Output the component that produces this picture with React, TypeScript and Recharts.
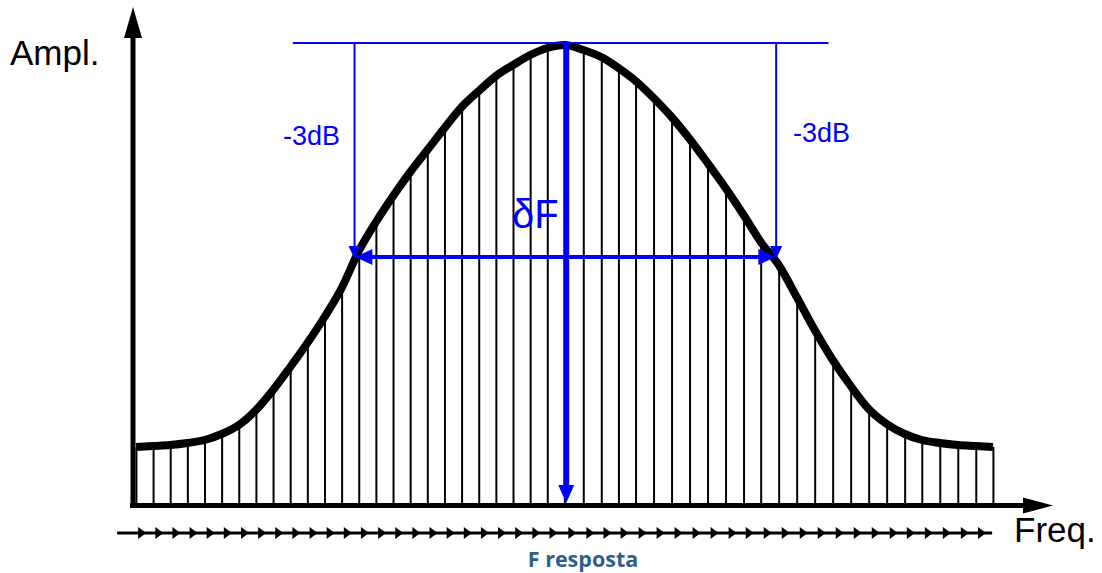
import React from 'react';
import {
  ComposedChart,
  Bar,
  Line,
  Scatter,
  XAxis,
  YAxis,
  ReferenceLine,
} from 'recharts';

// frequency positions of the hatch lines (arbitrary units, 0..100)
const freqs = [
  0, 2, 4, 6, 8, 10, 12, 14, 16, 18, 20, 22, 24, 26, 28, 30, 32, 34, 36, 38, 40, 42, 44, 46, 48, 50,
  52.2, 54.3, 56.3, 58.3, 60.4, 62.5, 64.6, 66.7, 68.8, 70.9, 72.9, 75, 77.1, 79.2, 81.3, 83.4,
  85.5, 87.6, 89.7, 91.7, 93.8, 95.9, 98, 100,
];

// response amplitude at each hatch line (arbitrary units)
const amps = [
  58, 59, 60, 62, 65, 71, 80, 95, 115, 138, 162, 188, 217, 254, 283, 309, 333, 355, 377, 398, 414,
  429, 440, 450, 457, 460,
  455, 448, 437, 424, 407, 388, 366, 342, 317, 290, 263, 240, 208, 175, 145, 119, 96, 81, 71, 65,
  62, 60, 59, 58,
];

// annotation levels
const peakLevel = 462;
const halfLevel = 248;
const lowerEdge = 25.6;
const upperEdge = 74.6;
const centerFreq = 50.2;
const arrowRowLevel = -28;

const data = freqs.map((f, i) => ({ f, amp: amps[i] }));
const arrowRow = freqs.slice(1).map((f) => ({ f, v: arrowRowLevel }));

const BLUE = '#0000ff';

const arrowShape =
  (color: string, width: number, len: number, half: number, both = false) =>
  (p: any) => {
    const { x1, y1, x2, y2 } = p;
    const dx = x2 - x1;
    const dy = y2 - y1;
    const d = Math.sqrt(dx * dx + dy * dy) || 1;
    const ux = dx / d;
    const uy = dy / d;
    const head = (tx: number, ty: number, sx: number, sy: number) => {
      const bx = tx - sx * len;
      const by = ty - sy * len;
      return `${tx},${ty} ${bx - sy * half},${by + sx * half} ${bx + sy * half},${by - sx * half}`;
    };
    const sx1 = both ? x1 + ux * (len - 1) : x1;
    const sy1 = both ? y1 + uy * (len - 1) : y1;
    return (
      <g>
        <line
          x1={sx1}
          y1={sy1}
          x2={x2 - ux * (len - 1)}
          y2={y2 - uy * (len - 1)}
          stroke={color}
          strokeWidth={width}
        />
        <polygon points={head(x2, y2, ux, uy)} fill={color} />
        {both && <polygon points={head(x1, y1, -ux, -uy)} fill={color} />}
      </g>
    );
  };

const smallHead = (p: any) => {
  const tip = p.cx - 7;
  return (
    <polygon
      points={`${tip},${p.cy} ${tip - 8},${p.cy - 6} ${tip - 8},${p.cy + 6}`}
      fill="#000"
    />
  );
};

export default function App() {
  return (
    <div style={{ position: 'absolute', left: 0, top: 0, width: 1102, height: 573, background: '#fff' }}>
      <ComposedChart width={1102} height={573} data={data} margin={{ top: 0, right: 0, bottom: 0, left: 0 }}>
        <XAxis dataKey="f" type="number" domain={[-15.87, 112.72]} hide />
        <YAxis type="number" domain={[-68, 505]} hide />

        <Bar dataKey="amp" fill="#000" barSize={2} isAnimationActive={false} />
        <Line
          dataKey="amp"
          type="monotone"
          stroke="#000"
          strokeWidth={8}
          dot={false}
          activeDot={false}
          isAnimationActive={false}
        />

        {/* axes */}
        <ReferenceLine
          segment={[{ x: -0.35, y: -3 }, { x: -0.35, y: 498 }]}
          shape={arrowShape('#000', 5, 31, 9)}
        />
        <ReferenceLine
          segment={[{ x: -0.7, y: -0.5 }, { x: 107, y: -0.5 }]}
          shape={arrowShape('#000', 5, 30, 8)}
        />

        {/* row of arrows below the axis */}
        <ReferenceLine
          segment={[{ x: -2.2, y: arrowRowLevel }, { x: 99.9, y: arrowRowLevel }]}
          stroke="#000"
          strokeWidth={3}
        />
        <Scatter data={arrowRow} dataKey="v" shape={smallHead} activeShape={false} isAnimationActive={false} />

        {/* -3dB annotations */}
        <ReferenceLine
          segment={[{ x: 18.3, y: peakLevel }, { x: 80.8, y: peakLevel }]}
          stroke={BLUE}
          strokeWidth={2}
        />
        <ReferenceLine
          segment={[{ x: lowerEdge - 0.1, y: peakLevel }, { x: lowerEdge - 0.1, y: halfLevel - 2 }]}
          shape={arrowShape(BLUE, 2, 13, 6)}
        />
        <ReferenceLine
          segment={[{ x: upperEdge + 0.1, y: peakLevel }, { x: upperEdge + 0.1, y: halfLevel - 2 }]}
          shape={arrowShape(BLUE, 2, 13, 6)}
        />
        <ReferenceLine
          segment={[{ x: lowerEdge, y: halfLevel }, { x: upperEdge, y: halfLevel }]}
          shape={arrowShape(BLUE, 4, 17, 8, true)}
        />
        <ReferenceLine
          segment={[{ x: centerFreq, y: peakLevel }, { x: centerFreq, y: 2 }]}
          shape={arrowShape(BLUE, 6, 18, 8)}
        />
      </ComposedChart>

      <svg
        width={1102}
        height={573}
        style={{ position: 'absolute', left: 0, top: 0, pointerEvents: 'none' }}
      >
        <g fontFamily="'Liberation Sans', Arial, sans-serif">
          <text x={10} y={65} fontSize={35} fill="#000">Ampl.</text>
          <text x={1014} y={542} fontSize={35} fill="#000">Freq.</text>
          <text x={283} y={145} fontSize={27} fill={BLUE}>-3dB</text>
          <text x={793} y={142} fontSize={27} fill={BLUE}>-3dB</text>
          <text x={512} y={228} fontSize={40} fill={BLUE}>δF</text>
        </g>
        <text
          x={583}
          y={567}
          textAnchor="middle"
          fontFamily="'Open Sans', sans-serif"
          fontWeight="bold"
          fontSize={21.5}
          fill="#2f5d8c"
        >
          F resposta
        </text>
      </svg>
    </div>
  );
}
